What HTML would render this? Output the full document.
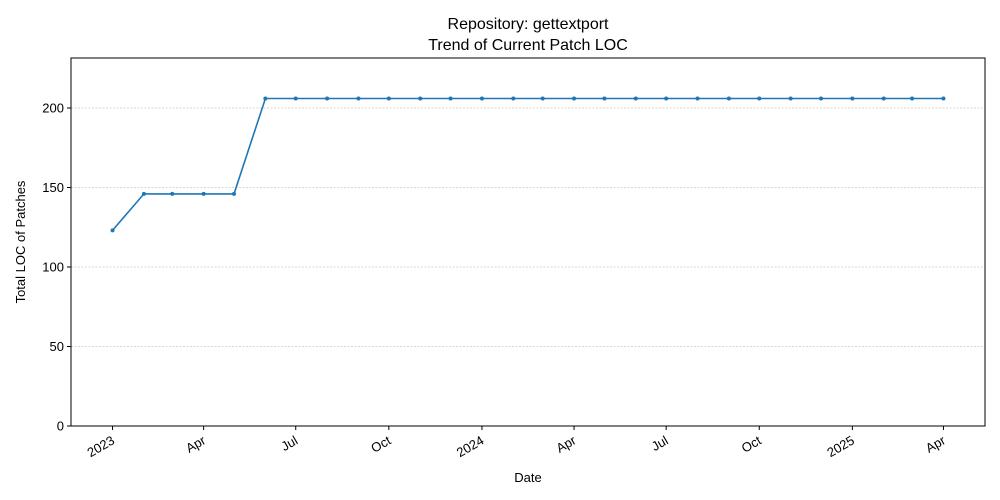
<!DOCTYPE html>
<html><head><meta charset="utf-8"><style>
body{margin:0;background:#fff;}
svg{display:block;font-family:"Liberation Sans","DejaVu Sans",sans-serif;}
</style></head><body>
<svg id="chart" width="1000" height="500">
<text x="528" y="29" font-size="16" text-anchor="middle">Repository: gettextport</text>
<text x="528" y="50" font-size="16" text-anchor="middle">Trend of Current Patch LOC</text>
<text x="528" y="482" font-size="13" text-anchor="middle">Date</text>
<text transform="translate(25,242) rotate(-90)" font-size="13" text-anchor="middle">Total LOC of Patches</text>
<g id="grid"></g><g id="axes"></g><g id="series"></g>
<rect x="71" y="58" width="914" height="368" fill="none" stroke="#000" stroke-width="1"/>
</svg>
<script>
const dates=["2023-01-01","2023-02-01","2023-03-01","2023-04-01","2023-05-01","2023-06-01","2023-07-01","2023-08-01","2023-09-01","2023-10-01","2023-11-01","2023-12-01","2024-01-01","2024-02-01","2024-03-01","2024-04-01","2024-05-01","2024-06-01","2024-07-01","2024-08-01","2024-09-01","2024-10-01","2024-11-01","2024-12-01","2025-01-01","2025-02-01","2025-03-01","2025-04-01"];
const values=[123,146,146,146,146,206,206,206,206,206,206,206,206,206,206,206,206,206,206,206,206,206,206,206,206,206,206,206];
const xTickDates=["2023-01-01","2023-04-01","2023-07-01","2023-10-01","2024-01-01","2024-04-01","2024-07-01","2024-10-01","2025-01-01","2025-04-01"];
const xTickLabels=["2023","Apr","Jul","Oct","2024","Apr","Jul","Oct","2025","Apr"];
const yTicks=[0,50,100,150,200];
const NS="http://www.w3.org/2000/svg";
const L=71,R=985,T=58,B=426;
const t=d=>Date.parse(d+"T00:00:00Z");
const t0=t(dates[0]),t1=t(dates[dates.length-1]),span=t1-t0;
const x0=t0-span*0.05,x1=t1+span*0.05;
const X=d=>L+(t(d)-x0)/(x1-x0)*(R-L);
const ymax=Math.max(...values)*1.1235;
const Y=v=>B-v/ymax*(B-T);
function mk(tag,attrs,parent){const e=document.createElementNS(NS,tag);for(const k in attrs)e.setAttribute(k,attrs[k]);parent.appendChild(e);return e;}
const grid=document.getElementById('grid'),axes=document.getElementById('axes'),series=document.getElementById('series');
yTicks.forEach(v=>{
  const y=Y(v);
  if(v>0){const g=mk('line',{x1:L,x2:R,y1:y,y2:y,stroke:'#b0b0b0','stroke-width':0.6,'stroke-dasharray':'2,1.5'},grid);
  
  }
  const tk=mk('line',{x1:L-4,x2:L,y1:y,y2:y,stroke:'#000'},axes);
  
  
  const tx=mk('text',{x:L-7,y:y+4.5,'font-size':13,'text-anchor':'end'},axes);tx.textContent=v;
  
  
});
xTickDates.forEach((d,i)=>{
  const x=X(d);
  const tk=mk('line',{x1:x,x2:x,y1:B,y2:B+4,stroke:'#000'},axes);
  
  
  const tx=mk('text',{x:x+3,y:B+17,'font-size':13,'text-anchor':'end',transform:`rotate(-30 ${x+3} ${B+17})`},axes);tx.textContent=xTickLabels[i];
  
  
});
const pts=dates.map((d,i)=>X(d).toFixed(1)+','+Y(values[i]).toFixed(1)).join(' ');
const pl=mk('polyline',{points:pts,fill:'none',stroke:'#1f77b4','stroke-width':1.6},series);


dates.forEach((d,i)=>{
  const c=mk('circle',{cx:X(d),cy:Y(values[i]),r:2,fill:'#1f77b4'},series);
  
  
});
</script>
</body></html>
